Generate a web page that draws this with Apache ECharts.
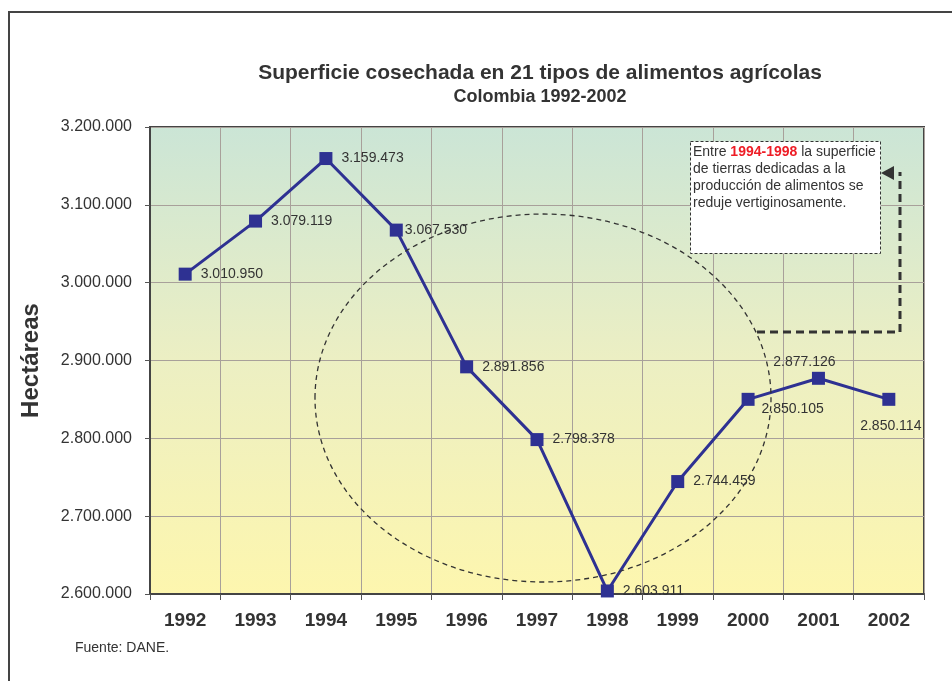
<!DOCTYPE html>
<html><head><meta charset="utf-8">
<script src="https://cdn.jsdelivr.net/npm/echarts@6/dist/echarts.min.js"></script>
<style>html,body{margin:0;padding:0;background:#fff}#c{width:952px;height:681px}</style>
</head><body><div id="c"></div>
<script>
const years = ['1992','1993','1994','1995','1996','1997','1998','1999','2000','2001','2002'];
const hectareas = [3010950, 3079119, 3159473, 3067530, 2891856, 2798378, 2603911, 2744459, 2850105, 2877126, 2850114];
const yMin = 2600000, yMax = 3200000, yStep = 100000;
const titleText = 'Superficie cosechada en 21 tipos de alimentos agrícolas';
const subtitleText = 'Colombia 1992-2002';
const yAxisTitle = 'Hectáreas';
const sourceText = 'Fuente: DANE.';

function fmt(v){ return String(Math.round(v)).replace(/\B(?=(\d{3})+(?!\d))/g,'.'); }

const labelOverrides = {
  '1995': {distance: 2},
  '2000': {position: 'right', distance: 7, offset: [0, 10]},
  '2001': {position: 'top', distance: 3, offset: [-14, 0]},
  '2002': {position: 'bottom', distance: 13, offset: [2, 0]}
};

const seriesData = hectareas.map((v, i) => {
  const o = {value: v};
  if (labelOverrides[years[i]]) o.label = labelOverrides[years[i]];
  return o;
});

const FONT = 'Liberation Sans, Arial, sans-serif';
const chart = echarts.init(document.getElementById('c'), null, {renderer: 'canvas'});
chart.setOption({
  animation: false,
  backgroundColor: '#fff',
  textStyle: {fontFamily: FONT},
  grid: {
    left: 150, right: 28, top: 127, bottom: 87, show: true,
    borderColor: '#444', borderWidth: 2,
    backgroundColor: new echarts.graphic.LinearGradient(0, 0, 0, 1, [
      {offset: 0, color: '#cbe5d6'},
      {offset: 0.5, color: '#ecefc3'},
      {offset: 1, color: '#fdf6ae'}
    ])
  },
  xAxis: {
    type: 'category', data: years, boundaryGap: true,
    axisLine: {show: true, lineStyle: {color: '#444', width: 2}},
    axisTick: {show: true, length: 6, lineStyle: {color: '#555', width: 1}},
    axisLabel: {margin: 17, fontSize: 19, fontWeight: 'bold', color: '#333', fontFamily: FONT},
    splitLine: {show: true, interval: 0, lineStyle: {color: '#a8a09a', width: 1}}
  },
  yAxis: {
    type: 'value', min: yMin, max: yMax, interval: yStep,
    name: yAxisTitle, nameLocation: 'middle', nameGap: 107, nameRotate: 90,
    nameTextStyle: {fontFamily: FONT, fontSize: 24, fontWeight: 'bold', color: '#333'},
    axisLine: {show: true, lineStyle: {color: '#444', width: 2}},
    axisTick: {show: true, length: 5, lineStyle: {color: '#555', width: 1}},
    axisLabel: {margin: 18, fontSize: 16, color: '#333', fontFamily: FONT, formatter: fmt},
    splitLine: {show: true, lineStyle: {color: '#a8a09a', width: 1}}
  },
  series: [{
    type: 'line', data: seriesData,
    symbol: 'rect', symbolSize: 13,
    lineStyle: {color: '#2e3192', width: 3},
    itemStyle: {color: '#2e3192'},
    label: {show: true, position: 'right', distance: 9, fontSize: 14, color: '#333',
            fontFamily: FONT, formatter: p => fmt(p.value)},
    z: 5
  }],
  graphic: [
    {type: 'text', x: 540, y: 73, style: {text: titleText, font: 'bold 21px ' + FONT, fill: '#333', textAlign: 'center', textVerticalAlign: 'middle'}},
    {type: 'text', x: 540, y: 97, style: {text: subtitleText, font: 'bold 18px ' + FONT, fill: '#333', textAlign: 'center', textVerticalAlign: 'middle'}},
    {type: 'line', shape: {x1: 9, y1: 12, x2: 9, y2: 681}, style: {stroke: '#444', lineWidth: 2}},
    {type: 'line', shape: {x1: 8, y1: 12, x2: 952, y2: 12}, style: {stroke: '#444', lineWidth: 2}},
    {type: 'ellipse', shape: {cx: 543, cy: 398, rx: 228, ry: 184}, z: 10,
     style: {fill: null, stroke: '#333', lineWidth: 1.3, lineDash: [5, 4]}},
    {type: 'rect', shape: {x: 690.5, y: 141.5, width: 190, height: 112}, z: 10,
     style: {fill: '#fff', stroke: '#333', lineWidth: 1, lineDash: [3, 2]}},
    {type: 'text', x: 693, y: 144, z: 11,
     style: {text: 'Entre {r|1994-1998} la superficie\nde tierras dedicadas a la\nproducción de alimentos se\nreduje vertiginosamente.',
       font: '14px ' + FONT, fill: '#333', lineHeight: 17,
       rich: {r: {fill: '#ee1c25', fontWeight: 'bold', fontSize: 14, fontFamily: FONT, lineHeight: 17}}}},
    {type: 'polyline', shape: {points: [[757, 332], [900, 332], [900, 172]]}, z: 10,
     style: {fill: null, stroke: '#333', lineWidth: 3, lineDash: [8, 5]}},
    {type: 'polygon', shape: {points: [[881, 173], [894, 166], [894, 180]]}, z: 10,
     style: {fill: '#333'}},
    {type: 'text', x: 75, y: 648, style: {text: sourceText, font: '14px ' + FONT, fill: '#333', textVerticalAlign: 'middle'}}
  ]
});
</script></body></html>
